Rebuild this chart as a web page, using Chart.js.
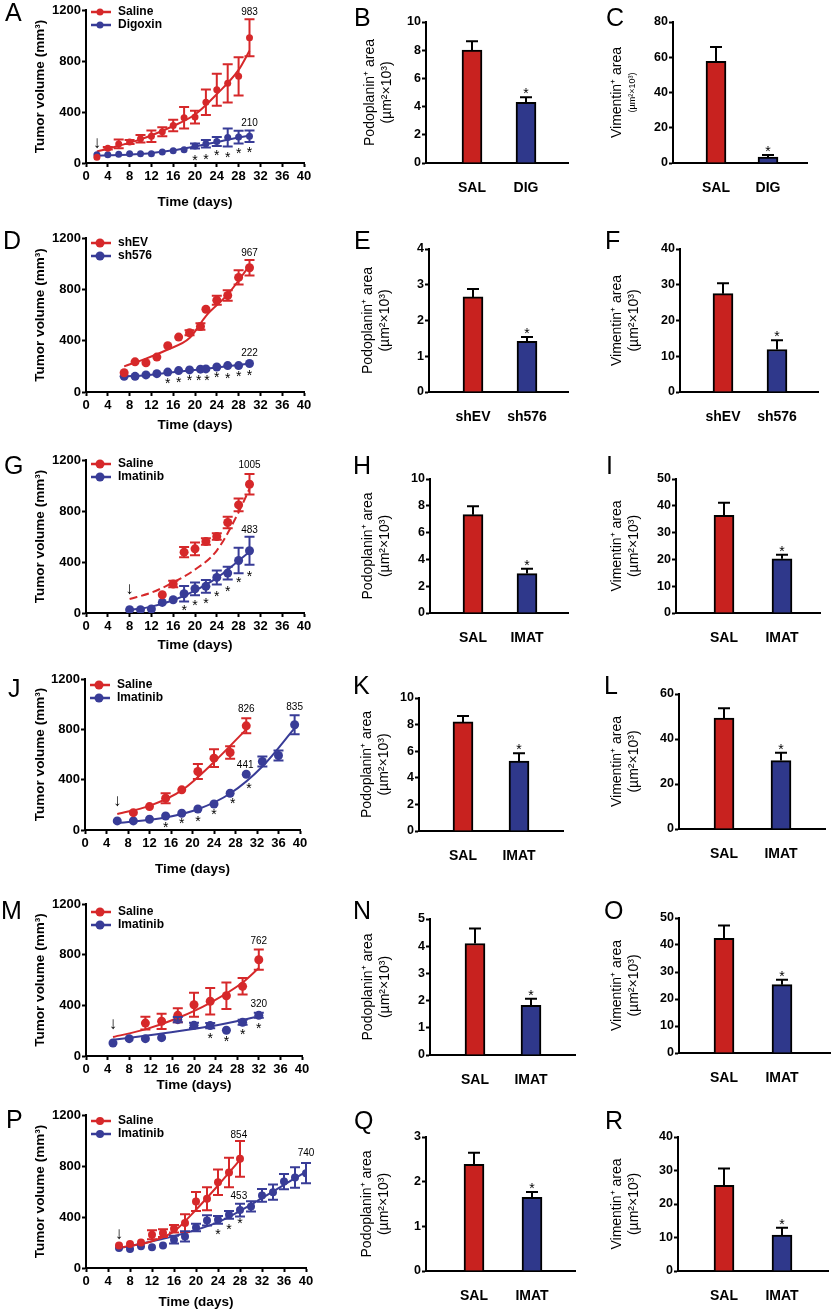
<!DOCTYPE html>
<html>
<head>
<meta charset="utf-8">
<script src="https://cdn.jsdelivr.net/npm/chart.js@4.4.1/dist/chart.umd.min.js"></script>
<style>
  body { margin: 0; background: #fff; }
  #fig { position: relative; width: 832px; height: 1309px; overflow: hidden; background: #fff;
         font-family: 'Liberation Sans', Arial, sans-serif; }
  #fig canvas { position: absolute; }
  .letter { position: absolute; font-size: 25px; line-height: 1; color: #000; }
</style>
</head>
<body>
<div id="fig"></div>
<script>
// ---------- shared ticks ----------
const dayTicks = [0, 4, 8, 12, 16, 20, 24, 28, 32, 36, 40];
const volTicks = [0, 400, 800, 1200];

// ---------- A: Saline vs Digoxin ----------
const daysA = [2, 4, 6, 8, 10, 12, 14, 16, 18, 20, 22, 24, 26, 28, 30];
const salineA = [45, 115, 150, 165, 190, 210, 245, 295, 355, 360, 477, 575, 625, 680, 983];
const salineErrA = [0, 10, 35, 15, 30, 45, 35, 45, 85, 50, 100, 125, 150, 150, 145];
const digoxinA = [65, 65, 68, 73, 73, 72, 86, 96, 104, 133, 151, 168, 200, 203, 210];
const digoxinErrA = [0, 0, 0, 0, 0, 0, 0, 0, 0, 20, 30, 35, 70, 50, 45];
const fitDaysA = [2, 10, 16, 20, 24, 28, 30];
const salineFitA = [90, 185, 290, 380, 540, 730, 880];
const digoxinFitA = [57, 70, 100, 130, 165, 200, 215];
const starDaysA = [20, 22, 24, 26, 28, 30];
const starA = [16, 24, 50, 42, 68, 76];
const noteDaysA = [30, 30];
const noteValA = [1182, 313];
const noteTextA = ['983', '210'];
const arrowA = [2, 157];

// ---------- D: shEV vs sh576 ----------
const daysD = [7, 9, 11, 13, 15, 17, 19, 21, 22, 24, 26, 28, 30];
const shEV = [150, 235, 228, 272, 360, 428, 462, 510, 645, 715, 752, 893, 968];
const shEVErr = [0, 0, 0, 0, 0, 0, 20, 25, 0, 35, 40, 55, 60];
const sh576 = [122, 122, 133, 143, 155, 167, 172, 178, 180, 195, 206, 206, 222];
const fitDaysD = [7, 11, 15, 19, 22, 26, 30];
const shEVFit = [200, 260, 331, 420, 592, 760, 985];
const sh576Fit = [122, 130, 150, 168, 180, 200, 222];
const starDaysD = [15, 17, 19, 20.7, 22.2, 24, 26, 28, 30];
const starD = [60, 68, 81, 81, 81, 107, 102, 115, 120];
const noteDaysD = [30, 30];
const noteValD = [1083, 300];
const noteTextD = ['967', '222'];

// ---------- G: Saline vs Imatinib ----------
const daysSalG = [14, 16, 18, 20, 22, 24, 26, 28, 30];
const salineG = [143, 227, 477, 503, 561, 600, 710, 848, 1010];
const salineErrG = [0, 25, 40, 50, 25, 25, 45, 50, 80];
const daysImaG = [8, 10, 12, 14, 16, 18, 20, 22, 24, 26, 28, 30];
const imatinibG = [26, 26, 31, 83, 104, 151, 190, 209, 279, 313, 412, 488];
const imatinibErrG = [0, 0, 0, 0, 0, 60, 50, 50, 55, 50, 100, 110];
const fitDaysG = [8, 12, 16, 20, 24, 28, 30];
const salineFitG = [110, 160, 240, 340, 490, 790, 975];
const imatinibFitG = [22, 50, 100, 175, 275, 410, 480];
const starDaysG = [18, 20, 22, 24, 26, 28, 30];
const starG = [11, 55, 68, 126, 167, 233, 285];
const noteDaysG = [30, 30];
const noteValG = [1161, 652];
const noteTextG = ['1005', '483'];
const arrowG = [8, 188];

// ---------- J: Saline vs Imatinib ----------
const daysSalJ = [9, 12, 15, 18, 21, 24, 27, 30];
const salineJ = [138, 186, 252, 319, 465, 571, 616, 828];
const salineErrJ = [0, 0, 40, 0, 60, 70, 50, 60];
const daysImaJ = [6, 9, 12, 15, 18, 21, 24, 27, 30, 33, 36, 39];
const imatinibJ = [72, 72, 85, 111, 133, 167, 207, 292, 443, 544, 592, 836];
const imatinibErrJ = [0, 0, 0, 0, 0, 0, 0, 0, 0, 40, 40, 75];
const fitDaysSalJ = [6, 12, 18, 24, 30];
const salineFitJ = [127, 192, 315, 540, 800];
const fitDaysImaJ = [6, 15, 21, 27, 33, 39];
const imatinibFitJ = [55, 100, 165, 290, 505, 810];
const starDaysJ = [15, 18, 21, 24, 27.5, 30.5];
const starJ = [17, 43, 62, 115, 203, 322];
const noteDaysJ = [30, 39, 29.8];
const noteValJ = [956, 974, 518];
const noteTextJ = ['826', '835', '441'];
const arrowJ = [6, 226];

// ---------- M: Saline vs Imatinib ----------
const daysSalM = [11, 14, 17, 20, 23, 26, 29, 32];
const salineM = [260, 274, 321, 405, 432, 476, 550, 760];
const salineErrM = [50, 60, 55, 95, 105, 105, 65, 80];
const daysImaM = [5, 8, 11, 14, 17, 20, 23, 26, 29, 32];
const imatinibM = [103, 137, 137, 145, 287, 242, 240, 203, 266, 321];
const imatinibErrM = [0, 0, 0, 0, 20, 20, 20, 0, 20, 20];
const fitDaysM = [5, 11, 17, 23, 29, 32];
const salineFitM = [150, 210, 300, 420, 580, 695];
const imatinibFitM = [128, 160, 195, 235, 285, 313];
const starDaysM = [23, 26, 29, 32];
const starM = [132, 106, 164, 211];
const noteDaysM = [32, 32];
const noteValM = [905, 405];
const noteTextM = ['762', '320'];
const arrowM = [5, 247];

// ---------- P: Saline vs Imatinib ----------
const daysSalP = [6, 8, 10, 12, 14, 16, 18, 20, 22, 24, 26, 28];
const salineP = [177, 188, 200, 261, 274, 308, 352, 522, 543, 673, 749, 856];
const salineErrP = [0, 0, 0, 35, 30, 30, 70, 75, 90, 100, 115, 140];
const daysImaP = [6, 8, 10, 12, 14, 16, 18, 20, 22, 24, 26, 28, 30, 32, 34, 36, 38, 40];
const imatinibP = [157, 149, 170, 162, 177, 222, 248, 318, 373, 378, 417, 454, 483, 569, 595, 678, 710, 744];
const imatinibErrP = [0, 0, 0, 0, 0, 30, 40, 30, 40, 30, 30, 50, 40, 50, 60, 60, 80, 80];
const fitDaysSalP = [6, 12, 16, 20, 24, 28];
const salineFitP = [157, 210, 287, 457, 647, 848];
const fitDaysImaP = [6, 16, 24, 32, 40];
const imatinibFitP = [155, 250, 360, 548, 757];
const starDaysP = [24, 26, 28];
const starP = [259, 298, 342];
const noteDaysP = [27.8, 40, 27.8];
const noteValP = [1043, 900, 561];
const noteTextP = ['854', '740', '453'];
const arrowP = [6, 266];

// ---------- bar panels ----------
const catsDIG = ['SAL', 'DIG'];
const catsSH = ['shEV', 'sh576'];
const catsIMAT = ['SAL', 'IMAT'];
const podoB = [8.0, 4.3], podoErrB = [0.64, 0.36];
const vimC = [57.7, 3.4], vimErrC = [8.1, 1.1];
const podoE = [2.66, 1.42], podoErrE = [0.22, 0.12];
const vimF = [27.5, 11.9], vimErrF = [2.9, 2.6];
const podoH = [7.34, 2.94], podoErrH = [0.62, 0.37];
const vimI = [36.4, 20.2], vimErrI = [4.7, 1.5];
const podoK = [8.2, 5.25], podoErrK = [0.45, 0.6];
const vimL = [49.3, 30.4], vimErrL = [4.4, 3.5];
const podoN = [4.1, 1.83], podoErrN = [0.55, 0.24];
const vimO = [42.5, 25.3], vimErrO = [4.7, 1.8];
const podoQ = [2.39, 1.65], podoErrQ = [0.26, 0.12];
const vimR = [25.6, 10.7], vimErrR = [5.0, 2.2];

// ---------- styling ----------
const FONT = "'Liberation Sans', Arial, sans-serif";
const RED = 'rgb(214,40,42)';
const BLUE = 'rgb(56,60,151)';
const RED_BAR = 'rgb(200,34,31)';
const BLUE_BAR = 'rgb(47,56,139)';
const PODO_TITLE = ['Podoplanin\u207A area', '(\u00B5m\u00B2\u00D710\u00B3)'];
const VIM_TITLE = ['Vimentin\u207A area', '(\u00B5m\u00B2\u00D710\u00B3)'];

Chart.defaults.font.family = FONT;
Chart.defaults.color = '#000';

const fig = document.getElementById('fig');

function addCanvas(x, y, w, h) {
    const c = document.createElement('canvas');
    c.width = w; c.height = h;
    c.style.left = x + 'px'; c.style.top = y + 'px';
    c.style.width = w + 'px'; c.style.height = h + 'px';
    fig.appendChild(c);
    return c;
}

const pts = (days, vals) => days.map((d, i) => ({ x: d, y: vals[i] }));
const plain = v => String(v);

// error bars, stars, notes, arrows and inside legend
function marks(p) {
    return {
        id: 'marks',
        afterDatasetsDraw(chart) {
            const ctx = chart.ctx, ys = chart.scales.y;
            ctx.save();
            ctx.lineWidth = 2;
            chart.data.datasets.forEach((ds, i) => {
                if (!ds.errors) return;
                const meta = chart.getDatasetMeta(i);
                ctx.strokeStyle = ds.errColor || ds.borderColor;
                meta.data.forEach((el, j) => {
                    const e = ds.errors[j];
                    if (!e) return;
                    const v = ds.data[j].y, h = ds.capWidth / 2;
                    const top = ys.getPixelForValue(v + e);
                    const bot = ds.upOnly ? ys.getPixelForValue(v) : ys.getPixelForValue(v - e);
                    ctx.beginPath();
                    ctx.moveTo(el.x, bot); ctx.lineTo(el.x, top);
                    ctx.moveTo(el.x - h, top); ctx.lineTo(el.x + h, top);
                    if (!ds.upOnly) { ctx.moveTo(el.x - h, bot); ctx.lineTo(el.x + h, bot); }
                    ctx.stroke();
                });
            });
            ctx.restore();
        },
        afterDraw(chart) {
            const ctx = chart.ctx, xs = chart.scales.x, ys = chart.scales.y, ca = chart.chartArea;
            ctx.save();
            ctx.fillStyle = '#000';
            ctx.textAlign = 'center';
            ctx.textBaseline = 'middle';
            if (p.stars) {
                ctx.font = '14px ' + FONT;
                p.stars[0].forEach((d, i) => ctx.fillText('*', xs.getPixelForValue(d), ys.getPixelForValue(p.stars[1][i])));
            }
            if (p.notes) {
                ctx.font = '10px ' + FONT;
                p.notes[0].forEach((d, i) => ctx.fillText(p.notes[2][i], xs.getPixelForValue(d), ys.getPixelForValue(p.notes[1][i])));
            }
            if (p.arrow) {
                ctx.font = '17px ' + FONT;
                ctx.fillText('\u2193', xs.getPixelForValue(p.arrow[0]), ys.getPixelForValue(p.arrow[1]));
            }
            if (p.series) {
                p.series.forEach((s, k) => {
                    const y = ca.top + p.legendTop + k * 13;
                    const x0 = ca.left + 5;
                    ctx.strokeStyle = s.color; ctx.fillStyle = s.color; ctx.lineWidth = 2.5;
                    ctx.beginPath(); ctx.moveTo(x0, y); ctx.lineTo(x0 + 20, y); ctx.stroke();
                    ctx.beginPath(); ctx.arc(x0 + 9, y, p.radius, 0, Math.PI * 2); ctx.fill();
                    ctx.fillStyle = '#000';
                    ctx.font = 'bold 12px ' + FONT;
                    ctx.textAlign = 'left';
                    ctx.fillText(s.label, x0 + 27, y);
                    ctx.textAlign = 'center';
                });
            }
            if (p.vals) {
                const el = chart.getDatasetMeta(0).data[1];
                ctx.font = '14px ' + FONT;
                ctx.fillText('*', el.x, ys.getPixelForValue(p.vals[1] + p.errs[1]) - 3);
            }
            if (p.sub) {
                ctx.font = '9px ' + FONT;
                ctx.translate(p.sub[1] - p.cx, (ca.top + ca.bottom) / 2);
                ctx.rotate(-Math.PI / 2);
                ctx.fillText(p.sub[0], 0, 0);
            }
            ctx.restore();
        }
    };
}

function linePanel(p) {
    const [l, t, r, b] = p.area;
    const cx = 0, cy = t - 12, cw = r + 16;
    const ch = Math.round(p.titleY + 8.1) - cy;
    const canvas = addCanvas(cx, cy, cw, ch);
    const sets = p.series.map(s => ({
        label: s.label, data: pts(s.days, s.vals), errors: s.errs, capWidth: 10,
        showLine: false, pointRadius: p.radius, pointBorderWidth: 0,
        backgroundColor: s.color, borderColor: s.color
    }));
    p.fits.forEach(f => sets.push({
        data: pts(f.days, f.vals), showLine: true, pointRadius: 0,
        borderColor: f.color, borderWidth: 2, borderDash: f.dash || [],
        cubicInterpolationMode: 'monotone', fill: false
    }));
    new Chart(canvas, {
        type: 'scatter',
        data: { datasets: sets },
        options: {
            responsive: false, devicePixelRatio: 1, animation: false, events: [],
            layout: { padding: { left: 0, top: t - cy, right: cw - r, bottom: 0 } },
            plugins: { legend: { display: false }, tooltip: { enabled: false } },
            scales: {
                x: {
                    type: 'linear', min: 0, max: 40,
                    afterBuildTicks: s => { s.ticks = dayTicks.map(v => ({ value: v })); },
                    afterFit: s => { s.height = ch - (b - cy); s.paddingLeft = 0; s.paddingRight = 0; },
                    ticks: { callback: plain, font: { size: 13, weight: 'bold' }, padding: 2, maxRotation: 0, autoSkip: false },
                    grid: { drawOnChartArea: false, tickLength: 4, tickWidth: 2, tickColor: '#000' },
                    border: { display: true, width: 2, color: '#000' },
                    title: { display: true, text: 'Time (days)', font: { size: 13.5, weight: 'bold' }, padding: 0 }
                },
                y: {
                    type: 'linear', min: 0, max: 1200,
                    afterBuildTicks: s => { s.ticks = volTicks.map(v => ({ value: v })); },
                    afterFit: s => { s.width = l - cx; s.paddingTop = 0; s.paddingBottom = 0; },
                    ticks: { callback: plain, font: { size: 13, weight: 'bold' }, padding: 1 },
                    grid: { drawOnChartArea: false, tickLength: 4, tickWidth: 2, tickColor: '#000' },
                    border: { display: true, width: 2, color: '#000' },
                    title: { display: true, text: 'Tumor volume (mm\u00B3)', font: { size: 13.5, weight: 'bold' },
                             padding: { top: 40 - cx - 8.1, bottom: 0 } }
                }
            }
        },
        plugins: [marks(p)]
    });
}

function barPanel(p) {
    const [l, t, r, b] = p.area;
    const cx = p.col === 2 ? 345 : 598;
    p.cx = cx;
    const cy = t - 12, cw = Math.min(832, r + 10) - cx, ch = b + 30 - cy;
    const unit = p.centers[1] - p.centers[0];
    const xmin = 1 - (p.centers[0] - l) / unit;
    const xmax = 2 + (r - p.centers[1]) / unit;
    const canvas = addCanvas(cx, cy, cw, ch);
    new Chart(canvas, {
        type: 'bar',
        data: {
            datasets: [{
                data: [{ x: 1, y: p.vals[0] }, { x: 2, y: p.vals[1] }],
                backgroundColor: [RED_BAR, BLUE_BAR], borderColor: '#000', borderWidth: 2,
                barThickness: 20, errors: p.errs, upOnly: true, capWidth: 12, errColor: '#000'
            }]
        },
        options: {
            responsive: false, devicePixelRatio: 1, animation: false, events: [],
            layout: { padding: { left: 0, top: t - cy, right: cw - (r - cx), bottom: 0 } },
            plugins: { legend: { display: false }, tooltip: { enabled: false } },
            scales: {
                x: {
                    type: 'linear', min: xmin, max: xmax, offset: false,
                    afterBuildTicks: s => { s.ticks = [{ value: 1 }, { value: 2 }]; },
                    afterFit: s => { s.height = ch - (b - cy); s.paddingLeft = 0; s.paddingRight = 0; },
                    ticks: { callback: v => p.cats[v - 1], font: { size: 14, weight: 'bold' }, padding: 9, maxRotation: 0, autoSkip: false },
                    grid: { display: false, offset: false },
                    border: { display: true, width: 2, color: '#000' }
                },
                y: {
                    min: 0, max: p.max,
                    afterFit: s => { s.width = l - cx; s.paddingTop = 0; s.paddingBottom = 0; },
                    ticks: { stepSize: p.step, callback: plain, font: { size: 12.5, weight: 'bold' }, padding: 1 },
                    grid: { drawOnChartArea: false, tickLength: 4, tickWidth: 2, tickColor: '#000' },
                    border: { display: true, width: 2, color: '#000' },
                    title: { display: true, text: p.title, font: { size: 14 },
                             padding: { top: p.titleX - cx - 8.4, bottom: 0 } }
                }
            }
        },
        plugins: [marks(p)]
    });
}

// ---------- panel layout ----------
const linePanels = [
    { area: [86, 10, 304, 163], titleY: 202, legendTop: 2, radius: 3.5,
      series: [{ label: 'Saline', days: daysA, vals: salineA, errs: salineErrA, color: RED },
               { label: 'Digoxin', days: daysA, vals: digoxinA, errs: digoxinErrA, color: BLUE }],
      fits: [{ days: fitDaysA, vals: salineFitA, color: RED }, { days: fitDaysA, vals: digoxinFitA, color: BLUE }],
      stars: [starDaysA, starA], notes: [noteDaysA, noteValA, noteTextA], arrow: arrowA },
    { area: [86, 238, 304, 392], titleY: 425, legendTop: 5, radius: 4.5,
      series: [{ label: 'shEV', days: daysD, vals: shEV, errs: shEVErr, color: RED },
               { label: 'sh576', days: daysD, vals: sh576, errs: null, color: BLUE }],
      fits: [{ days: fitDaysD, vals: shEVFit, color: RED }, { days: fitDaysD, vals: sh576Fit, color: BLUE }],
      stars: [starDaysD, starD], notes: [noteDaysD, noteValD, noteTextD] },
    { area: [86, 460, 304, 613], titleY: 645, legendTop: 4, radius: 4.5,
      series: [{ label: 'Saline', days: daysSalG, vals: salineG, errs: salineErrG, color: RED },
               { label: 'Imatinib', days: daysImaG, vals: imatinibG, errs: imatinibErrG, color: BLUE }],
      fits: [{ days: fitDaysG, vals: salineFitG, color: RED, dash: [8, 4] }, { days: fitDaysG, vals: imatinibFitG, color: BLUE }],
      stars: [starDaysG, starG], notes: [noteDaysG, noteValG, noteTextG], arrow: arrowG },
    { area: [85, 679, 300, 830], titleY: 869, legendTop: 6, radius: 4.5,
      series: [{ label: 'Saline', days: daysSalJ, vals: salineJ, errs: salineErrJ, color: RED },
               { label: 'Imatinib', days: daysImaJ, vals: imatinibJ, errs: imatinibErrJ, color: BLUE }],
      fits: [{ days: fitDaysSalJ, vals: salineFitJ, color: RED }, { days: fitDaysImaJ, vals: imatinibFitJ, color: BLUE }],
      stars: [starDaysJ, starJ], notes: [noteDaysJ, noteValJ, noteTextJ], arrow: arrowJ },
    { area: [86, 904, 302, 1056], titleY: 1085, legendTop: 8, radius: 4.5,
      series: [{ label: 'Saline', days: daysSalM, vals: salineM, errs: salineErrM, color: RED },
               { label: 'Imatinib', days: daysImaM, vals: imatinibM, errs: imatinibErrM, color: BLUE }],
      fits: [{ days: fitDaysM, vals: salineFitM, color: RED }, { days: fitDaysM, vals: imatinibFitM, color: BLUE }],
      stars: [starDaysM, starM], notes: [noteDaysM, noteValM, noteTextM], arrow: arrowM },
    { area: [86, 1115, 306, 1268], titleY: 1302, legendTop: 6, radius: 4,
      series: [{ label: 'Saline', days: daysSalP, vals: salineP, errs: salineErrP, color: RED },
               { label: 'Imatinib', days: daysImaP, vals: imatinibP, errs: imatinibErrP, color: BLUE }],
      fits: [{ days: fitDaysSalP, vals: salineFitP, color: RED }, { days: fitDaysImaP, vals: imatinibFitP, color: BLUE }],
      stars: [starDaysP, starP], notes: [noteDaysP, noteValP, noteTextP], arrow: arrowP }
];

const barPanels = [
    { col: 2, area: [426, 22, 568, 163], centers: [472, 526], max: 10, step: 2, cats: catsDIG, vals: podoB, errs: podoErrB, title: PODO_TITLE, titleX: 370 },
    { col: 3, area: [673, 22, 807, 163], centers: [716, 768], max: 80, step: 20, cats: catsDIG, vals: vimC, errs: vimErrC, title: VIM_TITLE[0], titleX: 617, sub: [VIM_TITLE[1], 633] },
    { col: 2, area: [429, 249, 568, 392], centers: [473, 527], max: 4, step: 1, cats: catsSH, vals: podoE, errs: podoErrE, title: PODO_TITLE, titleX: 368 },
    { col: 3, area: [680, 249, 818, 392], centers: [723, 777], max: 40, step: 10, cats: catsSH, vals: vimF, errs: vimErrF, title: VIM_TITLE, titleX: 617 },
    { col: 2, area: [430, 479, 568, 613], centers: [473, 527], max: 10, step: 2, cats: catsIMAT, vals: podoH, errs: podoErrH, title: PODO_TITLE, titleX: 368 },
    { col: 3, area: [676, 479, 820, 613], centers: [724, 782], max: 50, step: 10, cats: catsIMAT, vals: vimI, errs: vimErrI, title: VIM_TITLE, titleX: 617 },
    { col: 2, area: [419, 698, 563, 831], centers: [463, 519], max: 10, step: 2, cats: catsIMAT, vals: podoK, errs: podoErrK, title: PODO_TITLE, titleX: 367 },
    { col: 3, area: [679, 694, 825, 829], centers: [724, 781], max: 60, step: 20, cats: catsIMAT, vals: vimL, errs: vimErrL, title: VIM_TITLE, titleX: 617 },
    { col: 2, area: [430, 919, 575, 1055], centers: [475, 531], max: 5, step: 1, cats: catsIMAT, vals: podoN, errs: podoErrN, title: PODO_TITLE, titleX: 368 },
    { col: 3, area: [679, 918, 830, 1053], centers: [724, 782], max: 50, step: 10, cats: catsIMAT, vals: vimO, errs: vimErrO, title: VIM_TITLE, titleX: 617 },
    { col: 2, area: [426, 1137, 575, 1271], centers: [474, 532], max: 3, step: 1, cats: catsIMAT, vals: podoQ, errs: podoErrQ, title: PODO_TITLE, titleX: 367 },
    { col: 3, area: [678, 1137, 828, 1271], centers: [724, 782], max: 40, step: 10, cats: catsIMAT, vals: vimR, errs: vimErrR, title: VIM_TITLE, titleX: 617 }
];

const letters = [
    ['A', 5, 0], ['B', 354, 5], ['C', 606, 5],
    ['D', 3, 228], ['E', 354, 228], ['F', 605, 228],
    ['G', 4, 453], ['H', 353, 453], ['I', 606, 453],
    ['J', 8, 676], ['K', 353, 673], ['L', 604, 673],
    ['M', 1, 898], ['N', 353, 898], ['O', 604, 898],
    ['P', 6, 1107], ['Q', 354, 1108], ['R', 605, 1108]
];

linePanels.forEach(linePanel);
barPanels.forEach(barPanel);

letters.forEach(([t, x, y]) => {
    const d = document.createElement('div');
    d.className = 'letter';
    d.textContent = t;
    d.style.left = x + 'px';
    d.style.top = y + 'px';
    fig.appendChild(d);
});
</script>
</body>
</html>
